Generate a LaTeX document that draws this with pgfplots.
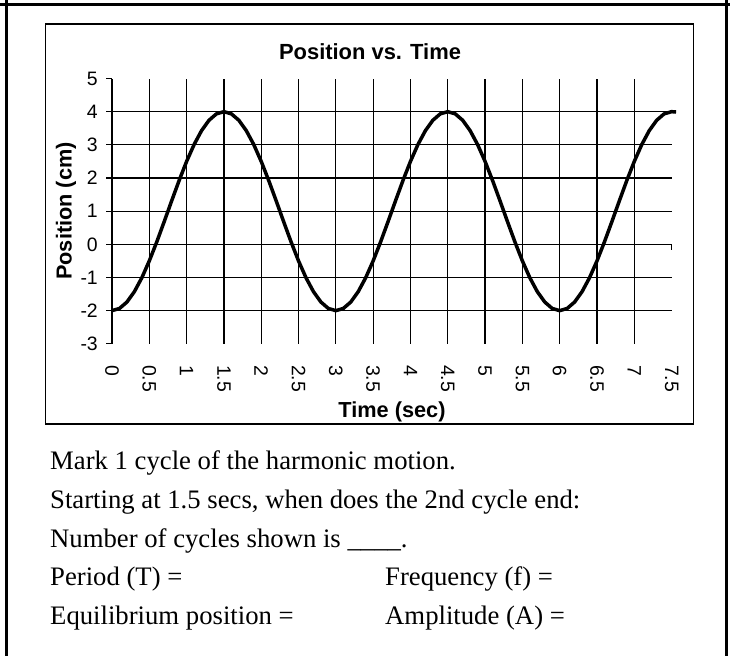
\documentclass[border=0pt]{standalone}
\usepackage{pgfplots}
\pgfplotsset{compat=1.18}
\usepackage{fontspec}
\setmainfont{Liberation Serif}
\newfontfamily\arial{Liberation Sans}
\begin{document}
\begin{tikzpicture}
\begin{axis}[
  at={(112bp,-343.8bp)}, anchor=south west,
  scale only axis, width=559.6bp, height=265.3bp,
  xmin=0, xmax=7.5, ymin=-3, ymax=5,
  clip=false,
  axis lines=left, axis line style={-, line width=1.2bp, black},
  x axis line style={draw=none},
  xtick={0,0.5,...,7},
  xticklabels={0,0.5,1,1.5,2,2.5,3,3.5,4,4.5,5,5.5,6,6.5,7},
  extra x ticks={7.5}, extra x tick labels={7.5},
  extra x tick style={grid=none},
  ytick={-2,-1,0,1,2,3,4},
  yticklabels={-2,-1,0,1,2,3,4},
  extra y ticks={-3,5}, extra y tick labels={-3,5},
  extra y tick style={grid=none},
  grid=major, major grid style={black, line width=1.2bp},
  tick align=outside, major tick length=6bp,
  y tick style={black, line width=1.2bp},
  x tick style={draw=none},
  ticklabel style={font=\arial\fontsize{19.5}{20}\selectfont, inner sep=0pt},
  yticklabel style={anchor=east, xshift=-8bp},
  xticklabel style={rotate=-90, anchor=west, xshift=15bp},
]
\addplot[black, line width=3.5bp, line join=round] coordinates {
(0.0,-2) (0.1,-1.9344) (0.2,-1.7406) (0.3,-1.4271) (0.4,-1.0074) (0.5,-0.5)
(0.6,0.0729) (0.7,0.6864) (0.8,1.3136) (0.9,1.9271) (1.0,2.5) (1.1,3.0074)
(1.2,3.4271) (1.3,3.7406) (1.4,3.9344) (1.5,4) (1.6,3.9344) (1.7,3.7406)
(1.8,3.4271) (1.9,3.0074) (2.0,2.5) (2.1,1.9271) (2.2,1.3136) (2.3,0.6864)
(2.4,0.0729) (2.5,-0.5) (2.6,-1.0074) (2.7,-1.4271) (2.8,-1.7406) (2.9,-1.9344)
(3.0,-2) (3.1,-1.9344) (3.2,-1.7406) (3.3,-1.4271) (3.4,-1.0074) (3.5,-0.5)
(3.6,0.0729) (3.7,0.6864) (3.8,1.3136) (3.9,1.9271) (4.0,2.5) (4.1,3.0074)
(4.2,3.4271) (4.3,3.7406) (4.4,3.9344) (4.5,4) (4.6,3.9344) (4.7,3.7406)
(4.8,3.4271) (4.9,3.0074) (5.0,2.5) (5.1,1.9271) (5.2,1.3136) (5.3,0.6864)
(5.4,0.0729) (5.5,-0.5) (5.6,-1.0074) (5.7,-1.4271) (5.8,-1.7406) (5.9,-1.9344)
(6.0,-2) (6.1,-1.9344) (6.2,-1.7406) (6.3,-1.4271) (6.4,-1.0074) (6.5,-0.5)
(6.6,0.0729) (6.7,0.6864) (6.8,1.3136) (6.9,1.9271) (7.0,2.5) (7.1,3.0074)
(7.2,3.4271) (7.3,3.7406) (7.4,3.9344) (7.5,4) (7.56,3.99)
};
\addplot[black, line width=1.2bp] coordinates {(7.5,0) (7.5,-0.18)};
\end{axis}
\begin{scope}[x=1bp, y=-1bp]
\draw[line width=3.3bp] (0,4.3) -- (730,4.3);
\draw[line width=3.3bp] (6.7,0) -- (6.7,656);
\draw[line width=3.3bp] (726.7,0) -- (726.7,656);
\draw[line width=1.2bp] (45.3,24) rectangle (693.3,424);
\node[anchor=base, font=\arial\bfseries\fontsize{22}{24}\selectfont, inner sep=0pt] at (370,60) {Position vs. Time};
\node[rotate=90, font=\arial\bfseries\fontsize{21.8}{24}\selectfont, inner sep=0pt] at (66,211) {Position (cm)};
\node[anchor=base, font=\arial\bfseries\fontsize{21.8}{24}\selectfont, inner sep=0pt] at (392,417) {Time (sec)};
\begin{scope}[every node/.style={anchor=base west, inner sep=0pt, font=\fontsize{26.8}{30}\selectfont}]
\node at (50,469) {Mark 1 cycle of the harmonic motion.};
\node at (50,508) {Starting at 1.5 secs, when does the 2nd cycle end:};
\node at (50,547) {Number of cycles shown is \_\_\_\_.};
\node at (50,585) {Period (T) =};
\node at (385,585) {Frequency (f) =};
\node at (50,624) {Equilibrium position =};
\node at (385,624) {Amplitude (A) =};
\end{scope}
\pgfresetboundingbox
\path[use as bounding box] (0,0) rectangle (730,656);
\end{scope}
\end{tikzpicture}
\end{document}
